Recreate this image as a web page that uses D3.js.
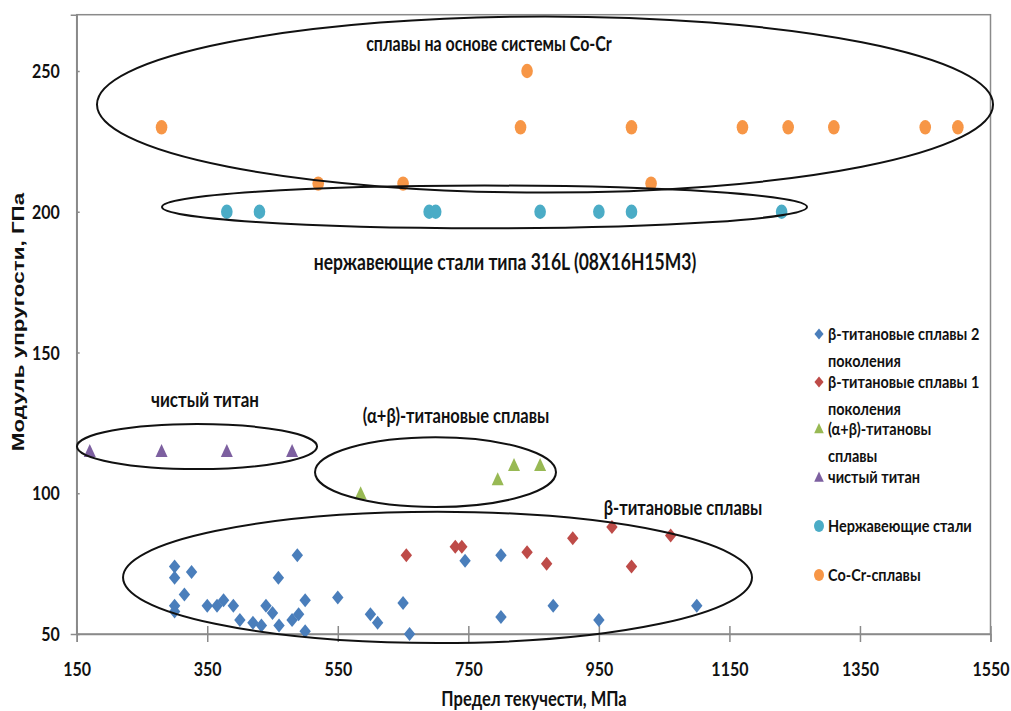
<!DOCTYPE html>
<html>
<head>
<meta charset="utf-8">
<script src="https://cdn.jsdelivr.net/npm/d3@7"></script>
<style>
  body { margin: 0; background: #fff; }
  svg { display: block; }
  text { font-family: Lato, "Liberation Sans", sans-serif; font-weight: bold; fill: #111; }
</style>
</head>
<body>
<svg id="chart"></svg>
<script>
// β-титановые сплавы 2 поколения
const beta2X = [300, 300, 326, 315, 300, 300, 350, 365, 375, 390, 400, 420, 433, 440, 450, 460, 459,
                488, 480, 490, 500, 500, 550, 600, 611, 650, 660, 745, 800, 800, 880, 950, 1100];
const beta2Y = [74, 70, 72, 64, 60, 58, 60, 60, 62, 60, 55, 54, 53, 60, 57.5, 53, 70,
                78, 55, 57, 62, 51, 63, 57, 54, 61, 50, 76, 78, 56, 60, 55, 60];
// β-титановые сплавы 1 поколения
const beta1X = [655, 730, 740, 840, 870, 910, 970, 1000, 1060];
const beta1Y = [78, 81, 81, 79, 75, 84, 88, 74, 85];
// (α+β)-титановые сплавы
const alphaBetaX = [585, 795, 820, 860];
const alphaBetaY = [100, 105, 110, 110];
// чистый титан
const tiX = [170, 280, 380, 480];
const tiY = [115, 115, 115, 115];
// нержавеющие стали
const steelX = [380, 430, 690, 700, 860, 950, 1000, 1230];
const steelY = [200, 200, 200, 200, 200, 200, 200, 200];
// Co-Cr сплавы
const coCrX = [280, 520, 650, 830, 840, 1000, 1030, 1170, 1240, 1310, 1450, 1500];
const coCrY = [230, 210, 210, 230, 250, 230, 210, 230, 230, 230, 230, 230];

const xTicks = [150, 350, 550, 750, 950, 1150, 1350, 1550];
const yTicks = [50, 100, 150, 200, 250];

const legendLabels = [
  ["β-титановые сплавы 2", "поколения"],
  ["β-титановые сплавы 1", "поколения"],
  ["(α+β)-титановы", "сплавы"],
  ["чистый титан"],
  ["Нержавеющие стали"],
  ["Co-Cr-сплавы"]
];

// группы на графике (в единицах осей)
const groupCx = [867.5, 774.8, 334.3, 699.7, 702.8];
const groupCy = [238.1, 201.7, 116.6, 107.5, 70.1];
const groupRx = [686.4, 494.1, 183.9, 184.6, 481.8];
const groupRy = [31.3, 7.6, 8.0, 12.4, 23.3];

const width = 1011, height = 711;
const svg = d3.select("#chart").attr("width", width).attr("height", height);

const x = d3.scaleLinear().domain([150, 1550]).range([76.7, 990.5]);
const y = d3.scaleLinear().domain([50, 270]).range([634, 14.7]);

const shapes = {
  diamond: "M0,-7L5.7,0L0,7L-5.7,0Z",
  triangle: "M0,-7L6,6L-6,6Z"
};

const series = [
  { xs: beta2X, ys: beta2Y, color: "#4a7ebb", shape: "diamond" },
  { xs: beta1X, ys: beta1Y, color: "#be4b48", shape: "diamond" },
  { xs: alphaBetaX, ys: alphaBetaY, color: "#98b954", shape: "triangle" },
  { xs: tiX, ys: tiY, color: "#7d60a0", shape: "triangle" },
  { xs: steelX, ys: steelY, color: "#4bacc6", shape: "circle" },
  { xs: coCrX, ys: coCrY, color: "#f79646", shape: "circle" }
];

// рамка области построения
svg.append("rect")
  .attr("x", x(150)).attr("y", y(270))
  .attr("width", x(1550) - x(150)).attr("height", y(50) - y(270))
  .attr("fill", "none").attr("stroke", "#8a8a8a").attr("stroke-width", 1.5);

// ось X
const gx = svg.append("g")
  .attr("transform", `translate(0,${y(50)})`)
  .call(d3.axisBottom(x).tickValues(xTicks).tickSize(8).tickFormat(d3.format("d")));
gx.select(".domain").attr("stroke", "#8a8a8a").attr("stroke-width", 1.5);
gx.selectAll(".tick line").attr("y1", -8).attr("stroke", "#8a8a8a").attr("stroke-width", 1.5);
gx.selectAll(".tick text")
  .attr("y", 0).attr("dy", 0)
  .attr("transform", "translate(0,42) scale(1,1.22)")
  .style("font-size", "16px").style("font-family", "Lato, sans-serif");

// ось Y
const gy = svg.append("g")
  .attr("transform", `translate(${x(150)},0)`)
  .call(d3.axisLeft(y).tickValues(yTicks).tickSize(6));
gy.select(".domain").attr("stroke", "#8a8a8a").attr("stroke-width", 1.5);
gy.selectAll(".tick line").attr("x2", 3).attr("stroke", "#8a8a8a").attr("stroke-width", 1.5);
gy.selectAll(".tick text")
  .attr("x", 0).attr("dy", 0)
  .attr("transform", "translate(-17,6.5) scale(1,1.22)")
  .style("font-size", "16px").style("font-family", "Lato, sans-serif");

// подписи осей
svg.append("text")
  .attr("transform", "translate(24,322) scale(1.0,1.36) rotate(-90)")
  .attr("text-anchor", "middle")
  .style("font-family", "'Liberation Sans', Arial, sans-serif")
  .style("font-size", "16.5px")
  .text("Модуль упругости, ГПа");

svg.append("text")
  .attr("transform", "translate(534,706) scale(1,1.25)")
  .attr("text-anchor", "middle")
  .style("font-size", "16.5px")
  .text("Предел текучести, МПа");

// точки
series.forEach(s => {
  const g = svg.append("g").attr("fill", s.color);
  const pts = s.xs.map((v, i) => [v, s.ys[i]]);
  if (s.shape === "circle") {
    g.selectAll("ellipse").data(pts).join("ellipse")
      .attr("cx", d => x(d[0])).attr("cy", d => y(d[1]))
      .attr("rx", 5.8).attr("ry", 7.2);
  } else {
    g.selectAll("path").data(pts).join("path")
      .attr("d", shapes[s.shape])
      .attr("transform", d => `translate(${x(d[0])},${y(d[1])})`);
  }
});

// овалы групп
svg.append("g")
  .selectAll("ellipse")
  .data(groupCx.map((c, i) => ({ cx: c, cy: groupCy[i], rx: groupRx[i], ry: groupRy[i] })))
  .join("ellipse")
  .attr("cx", d => x(d.cx)).attr("cy", d => y(d.cy))
  .attr("rx", d => x(d.cx + d.rx) - x(d.cx))
  .attr("ry", d => y(d.cy - d.ry) - y(d.cy))
  .attr("fill", "none").attr("stroke", "#111").attr("stroke-width", 2);

// подписи групп
const notes = [
  { t: "сплавы на основе системы Co-Cr", px: 489, py: 51, fs: 16 },
  { t: "нержавеющие стали типа 316L (08Х16Н15М3)", px: 505, py: 270, fs: 17.5 },
  { t: "чистый титан", px: 205, py: 407, fs: 17 },
  { t: "(α+β)-титановые сплавы", px: 456, py: 423, fs: 16.5 },
  { t: "β-титановые сплавы", px: 683, py: 515, fs: 16.5 }
];
svg.append("g").selectAll("text").data(notes).join("text")
  .attr("transform", d => `translate(${d.px},${d.py}) scale(1,1.25)`)
  .attr("text-anchor", "middle")
  .style("font-size", d => d.fs + "px")
  .text(d => d.t);

// легенда
const legendRows = [334, 382, 428.5, 477, 526, 575];
const lg = svg.append("g");
series.forEach((s, i) => {
  const cy = legendRows[i];
  if (s.shape === "circle") {
    lg.append("ellipse").attr("cx", 819).attr("cy", cy).attr("rx", 5).attr("ry", 6).attr("fill", s.color);
  } else {
    lg.append("path").attr("d", shapes[s.shape])
      .attr("transform", `translate(819,${cy}) scale(0.8)`).attr("fill", s.color);
  }
  legendLabels[i].forEach((line, j) => {
    lg.append("text")
      .attr("transform", `translate(828,${cy + 6 + j * 27}) scale(1,1.2)`)
      .style("font-size", "14.5px")
      .text(line);
  });
});
</script>
</body>
</html>
